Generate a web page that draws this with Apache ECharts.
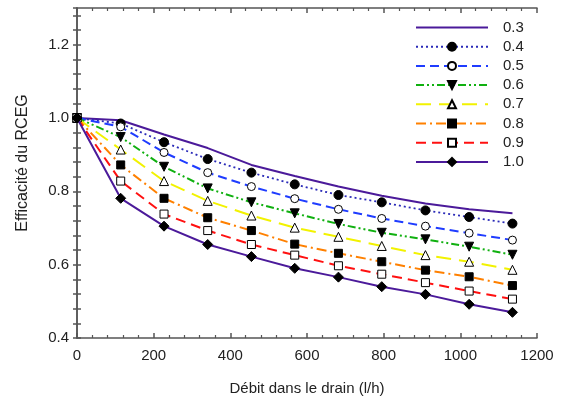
<!DOCTYPE html>
<html>
<head>
<meta charset="utf-8">
<script src="https://cdn.jsdelivr.net/npm/echarts@6/dist/echarts.min.js"></script>
<style>
html,body{margin:0;padding:0;background:#fff;}
#chart{width:564px;height:403px;}
</style>
</head>
<body>
<div id="chart"></div>
<script>
var flow = [0, 114, 227, 341, 455, 568, 682, 795, 909, 1023, 1136];
var seriesNames = ['0.3', '0.4', '0.5', '0.6', '0.7', '0.8', '0.9', '1.0'];
var s03 = [1.0, 0.994, 0.955, 0.918, 0.872, 0.842, 0.813, 0.788, 0.767, 0.751, 0.740];
var s04 = [1.0, 0.985, 0.934, 0.888, 0.851, 0.819, 0.790, 0.770, 0.748, 0.730, 0.712];
var s05 = [1.0, 0.976, 0.906, 0.851, 0.813, 0.780, 0.751, 0.726, 0.705, 0.686, 0.667];
var s06 = [1.0, 0.948, 0.867, 0.808, 0.770, 0.740, 0.711, 0.687, 0.669, 0.649, 0.627];
var s07 = [1.0, 0.914, 0.828, 0.774, 0.734, 0.701, 0.676, 0.651, 0.626, 0.608, 0.586];
var s08 = [1.0, 0.872, 0.781, 0.728, 0.693, 0.656, 0.631, 0.608, 0.585, 0.567, 0.543];
var s09 = [1.0, 0.828, 0.738, 0.693, 0.655, 0.626, 0.597, 0.574, 0.551, 0.528, 0.506];
var s10 = [1.0, 0.781, 0.705, 0.655, 0.622, 0.590, 0.566, 0.540, 0.519, 0.492, 0.470];
var xTickLabels = ['0', '200', '400', '600', '800', '1000', '1200'];
var yTickLabels = ['0.4', '0.6', '0.8', '1.0', '1.2'];

var allValues = [s03, s04, s05, s06, s07, s08, s09, s10];

function pairs(vals) {
  return vals.map(function (v, i) { return [flow[i], v]; });
}

var styles = [
  {color: '#4b1a9a', dash: 'solid', symbol: 'none', size: 0, fill: '#000', width: 2},
  {color: '#2a2ab8', dash: [2, 3], symbol: 'circle', size: 9, fill: '#000', width: 1.8},
  {color: '#1f3cff', dash: [9, 5], symbol: 'circle', size: 8, fill: '#fff', width: 2},
  {color: '#10b010', dash: [8, 3, 2, 3, 2, 3], symbol: 'triangle', size: 9, fill: '#000', width: 2, rotate: 180},
  {color: '#f2f200', dash: [15, 8], symbol: 'triangle', size: 9, fill: '#fff', width: 2},
  {color: '#ff8000', dash: [10, 4, 2, 4], symbol: 'rect', size: 8, fill: '#000', width: 2},
  {color: '#ff1010', dash: [10, 6], symbol: 'rect', size: 8, fill: '#fff', width: 2},
  {color: '#4b1a9a', dash: 'solid', symbol: 'diamond', size: 10, fill: '#000', width: 2}
];

var series = seriesNames.map(function (name, k) {
  var st = styles[k];
  return {
    name: name,
    type: 'line',
    data: pairs(allValues[k]),
    symbol: st.symbol,
    symbolSize: st.size,
    symbolRotate: st.rotate || 0,
    showSymbol: st.symbol !== 'none',
    z: 2 + k,
    lineStyle: {color: st.color, width: st.width, type: st.dash},
    itemStyle: {color: st.fill, borderColor: '#000', borderWidth: 1},
    emphasis: {disabled: true},
    animation: false
  };
});

var legendData = seriesNames.map(function (name, k) {
  if (styles[k].symbol === 'none') {
    return {name: name, itemStyle: {opacity: 0}};
  }
  return {name: name};
});

var font = 'Liberation Sans, Arial, sans-serif';
var axisLineStyle = {color: '#555', width: 1.5};

function near(v, arr) {
  for (var i = 0; i < arr.length; i++) {
    if (Math.abs(v - parseFloat(arr[i])) < 1e-6) return arr[i];
  }
  return '';
}

var option = {
  animation: false,
  backgroundColor: '#fff',
  grid: {left: 77, right: 27, top: 8, bottom: 65},
  legend: {
    orient: 'vertical',
    left: 415,
    top: 20,
    padding: 0,
    itemWidth: 72,
    itemHeight: 10,
    itemGap: 4.2,
    data: legendData,
    textStyle: {fontFamily: font, fontSize: 15, color: '#222', padding: [0, 0, 0, 10]}
  },
  xAxis: [{
    type: 'value', min: 0, max: 1200, interval: 200,
    name: 'Débit dans le drain (l/h)', nameLocation: 'middle', nameGap: 43,
    nameTextStyle: {fontFamily: font, fontSize: 15, color: '#222'},
    axisLine: {show: true, lineStyle: axisLineStyle},
    axisTick: {show: true, inside: true, length: 5, lineStyle: axisLineStyle},
    minorTick: {show: true, splitNumber: 5, length: 3, lineStyle: {color: '#555', width: 1.2}},
    axisLabel: {fontFamily: font, fontSize: 15, color: '#222', margin: 10,
      formatter: function (v) { return near(v, xTickLabels); }},
    splitLine: {show: false}
  }, {
    type: 'value', min: 0, max: 1200, interval: 200, position: 'top',
    axisLine: {show: true, lineStyle: axisLineStyle},
    axisTick: {show: true, inside: true, length: 5, lineStyle: axisLineStyle},
    minorTick: {show: true, splitNumber: 5, length: 3, lineStyle: {color: '#555', width: 1.2}},
    axisLabel: {show: false},
    splitLine: {show: false}
  }],
  yAxis: [{
    type: 'value', min: 0.4, max: 1.3, interval: 0.04,
    name: 'Efficacité du RCEG', nameLocation: 'middle', nameGap: 46,
    nameTextStyle: {fontFamily: font, fontSize: 16, color: '#222', padding: [0, 0, 0, 20]},
    axisLine: {show: true, lineStyle: axisLineStyle},
    axisTick: {show: true, inside: true, length: 4, lineStyle: axisLineStyle},
    axisLabel: {fontFamily: font, fontSize: 15, color: '#222', margin: 8, showMaxLabel: false,
      formatter: function (v) { return near(v, yTickLabels); }},
    splitLine: {show: false}
  }, {
    type: 'value', min: 0.4, max: 1.3, interval: 0.04, position: 'right',
    axisLine: {show: true, lineStyle: axisLineStyle},
    axisTick: {show: true, inside: true, length: 4, lineStyle: axisLineStyle},
    axisLabel: {show: false},
    splitLine: {show: false}
  }],
  series: series
};

var chart = echarts.init(document.getElementById('chart'), null, {renderer: 'canvas'});
chart.setOption(option);
</script>
</body>
</html>
